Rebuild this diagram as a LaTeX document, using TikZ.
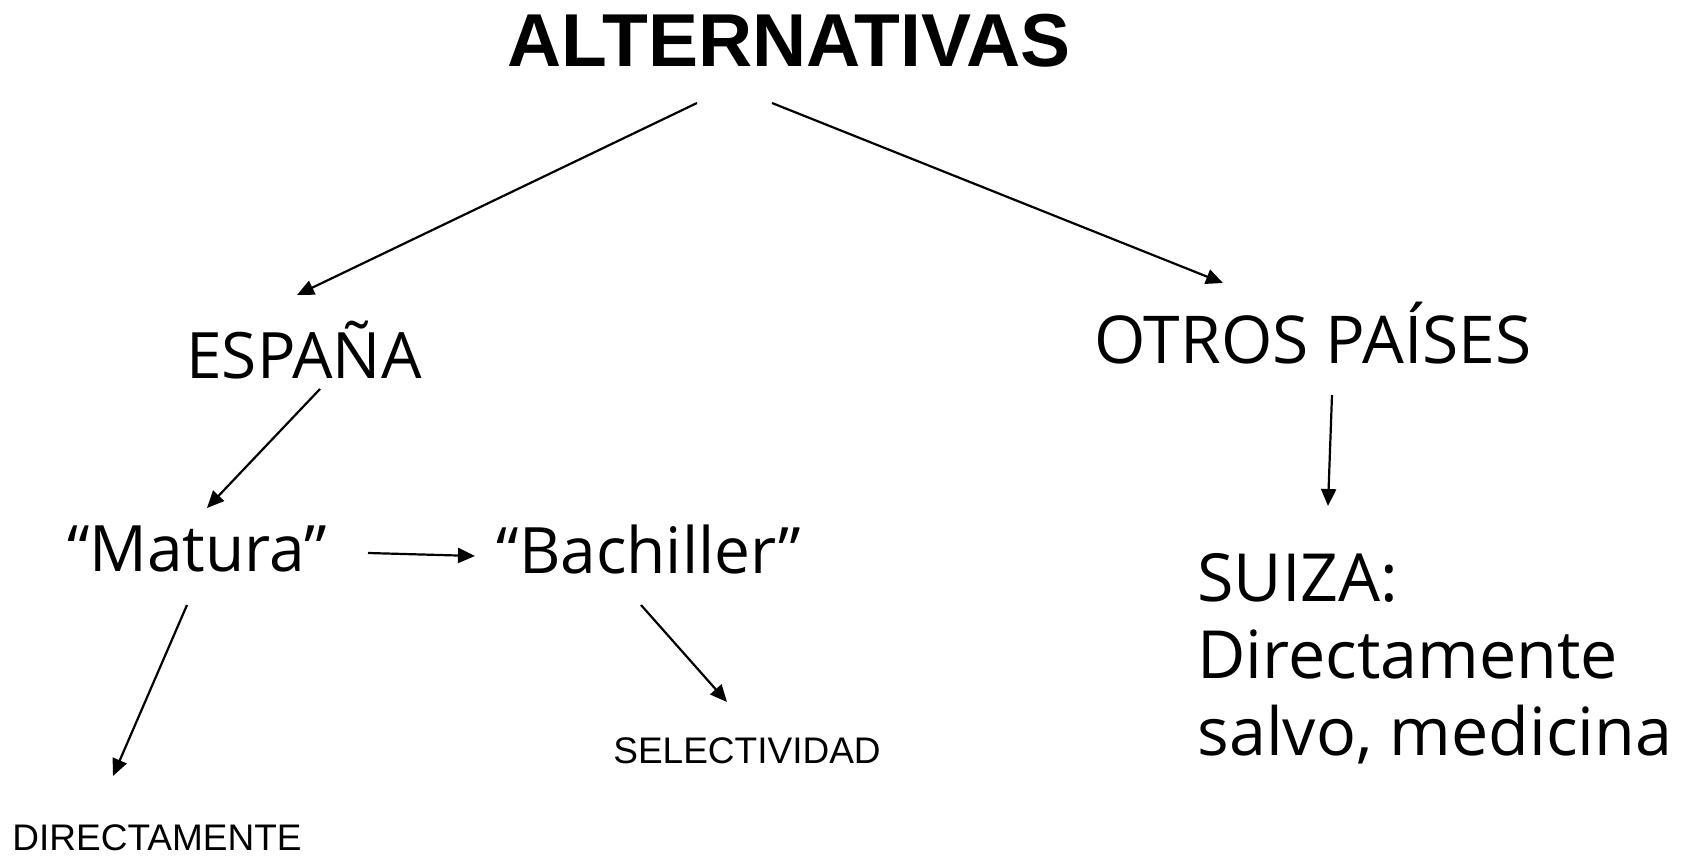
\documentclass[tikz,border=0pt]{standalone}
\usepackage{fontspec}
\setmainfont{Open Sans}
\newfontfamily\arialfont{Liberation Sans}
\usetikzlibrary{arrows.meta}
\begin{document}
\begin{tikzpicture}[x=0.5pt,y=-0.5pt,
  big/.style={font=\fontsize{32}{38}\selectfont, inner sep=0pt},
  small/.style={font=\arialfont\fontsize{18.5}{22}\selectfont, inner sep=0pt},
  title/.style={font=\arialfont\bfseries\fontsize{37.5}{40}\selectfont, inner sep=0pt},
  arr/.style={line width=1.1pt, -{Triangle[length=8.5pt,width=7.5pt]}}]
\useasboundingbox (0,0) rectangle (1694,856);
\node[title] (alt) at (789,41) {ALTERNATIVAS};
\node[big] (esp) at (304,350) {ESPAÑA};
\node[big, font=\fontsize{33}{38}\selectfont] (otros) at (1313,333) {OTROS PAÍSES};
\node[big] (mat) at (197,549) {“Matura”};
\node[big] (bach) at (649,549) {“Bachiller”};
\node[small] (dir) at (157,838) {DIRECTAMENTE};
\node[small] (sel) at (747,751) {SELECTIVIDAD};
\node[big, anchor=north west, align=left, font=\fontsize{33.2}{38.5}\selectfont] (sui) at (1197,553) {SUIZA:\\Directamente\\salvo, medicina};
% connector end points
\coordinate (a1s) at (697,103); \coordinate (a1e) at (297,295);
\coordinate (a2s) at (772,103); \coordinate (a2e) at (1223,283);
\coordinate (a3s) at (320,389); \coordinate (a3e) at (207,508);
\coordinate (a4s) at (368,553); \coordinate (a4e) at (475,556);
\coordinate (a5s) at (187,605); \coordinate (a5e) at (113,776);
\coordinate (a6s) at (641,605); \coordinate (a6e) at (727,702);
\coordinate (a7s) at (1332,395); \coordinate (a7e) at (1328,506);
\draw[arr] (a1s) -- (a1e);
\draw[arr] (a2s) -- (a2e);
\draw[arr] (a3s) -- (a3e);
\draw[arr] (a4s) -- (a4e);
\draw[arr] (a5s) -- (a5e);
\draw[arr] (a6s) -- (a6e);
\draw[arr] (a7s) -- (a7e);
\end{tikzpicture}
\end{document}
